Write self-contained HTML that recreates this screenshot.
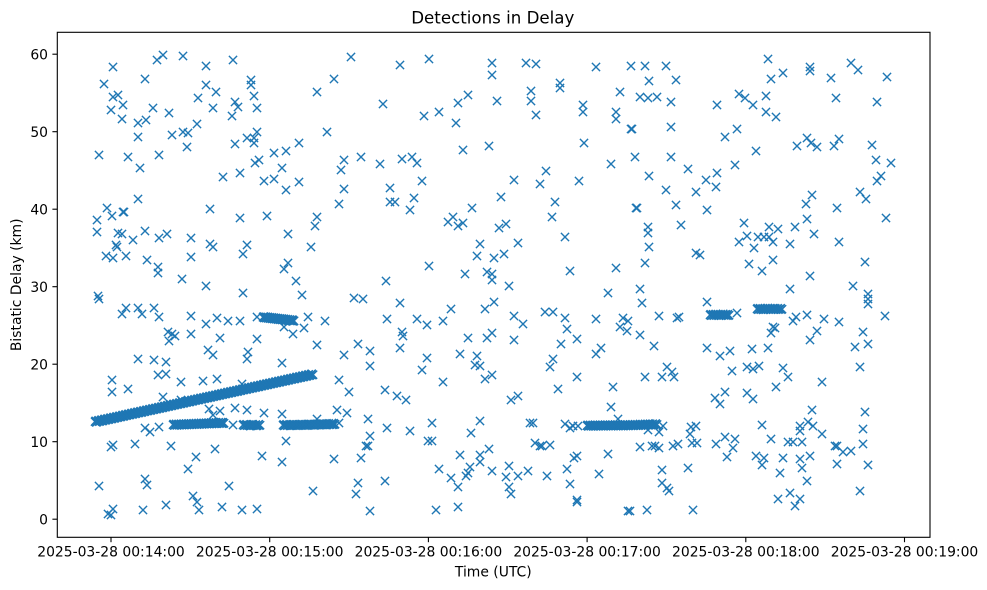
<!DOCTYPE html>
<html><head><meta charset="utf-8"><style>
html,body{margin:0;padding:0;background:#fff;}
svg{display:block;}
text{font-family:"DejaVu Sans","Liberation Sans",sans-serif;fill:#000;}
</style></head><body>
<svg width="987" height="590" viewBox="0 0 987 590" xmlns="http://www.w3.org/2000/svg">
<defs>
<marker id="m" markerWidth="12" markerHeight="12" refX="6" refY="6" markerUnits="userSpaceOnUse" overflow="visible">
<path d="M1.9 1.9 L10.1 10.1 M1.9 10.1 L10.1 1.9" stroke="#1f77b4" stroke-width="1.4" fill="none"/>
</marker>
<g id="bands" fill="none" stroke="none" marker-start="url(#m)" marker-mid="url(#m)" marker-end="url(#m)">
<polyline fill="none" stroke="none" points="95,421.7 98,421.0 101,420.4 104,419.7 107,419.1 110,418.4 113,417.8 116,417.1 119,416.5 122,415.8 125,415.1 128,414.5 131,413.8 134,413.2 137,412.5 140,411.9 143,411.2 146,410.5 149,409.9 152,409.2 155,408.6 158,407.9 161,407.3 164,406.6 167,405.9 170,405.3 173,404.6 176,404.0 179,403.3 182,402.7 185,402.0 188,401.4 191,400.7 194,400.0 197,399.4 200,398.7 203,398.1 206,397.4 209,396.8 212,396.1 215,395.5 218,394.8 221,394.1 224,393.5 227,392.8 230,392.2 233,391.5 236,390.9 239,390.2 242,389.5 245,388.9 248,388.2 251,387.6 254,386.9 257,386.3 260,385.6 263,384.9 266,384.3 269,383.6 272,383.0 275,382.3 278,381.7 281,381.0 284,380.4 287,379.7 290,379.0 293,378.4 296,377.7 299,377.1 302,376.4 305,375.8 308,375.1 311,374.5"/>
<polyline fill="none" stroke="none" points="173,424.8 175.5,424.7 178,424.6 180.5,424.5 183,424.4 185.5,424.3 188,424.2 190.5,424.1 193,424 195.5,423.9 198,423.8 200.5,423.7 203,423.6 205.5,423.5 208,423.4 210.5,423.3 213,423.2 215.5,423.1 218,423 220.5,422.9 222,423"/>
<polyline fill="none" stroke="none" points="243,425 246,425 249,425.5 252,425 255,425.3 258,425"/>
<polyline fill="none" stroke="none" points="283,425.2 286,425 289,425.2 292,425 295,425.1 298,425 301,424.8 304,425 307,424.8 310,424.6 313,424.8 316,424.5 319,424.4 322,424.3 325,424.5 328,424.2 331,424.2 333,424"/>
<polyline fill="none" stroke="none" points="587,425.7 589.5,425.6 592,425.7 594.5,425.5 597,425.6 599.5,425.5 602,425.6 604.5,425.4 607,425.5 609.5,425.4 612,425.5 614.5,425.3 617,425.4 619.5,425.3 622,425.4 624.5,425.2 627,425.3 629.5,425.1 632,425.2 634.5,425 637,425.1 639.5,424.8 642,424.9 644.5,424.6 647,424.7 649.5,424.5 652,424.5 655,424.3"/>
<polyline fill="none" stroke="none" points="263,317.3 265,317.5 267,317.7 269,318 271,318.2 273,318.4 275,318.6 277,318.9 279,319.1 281,319.3 283,319.5 285,319.8 287,320 289,320.3 291,320.5 292,320.7"/>
<polyline fill="none" stroke="none" points="710,315 712.5,315 715,314.8 717.5,315 720,315 722.5,314.7 725,315 727,315"/>
<polyline fill="none" stroke="none" points="757,309 759.5,309 762,309.2 764.5,309 767,308.8 769.5,309 772,309 774.5,309 777,309 780,309"/>
</g>
</defs>
<rect width="987" height="590" fill="#fff"/>
<g fill="none" stroke="none" marker-start="url(#m)" marker-mid="url(#m)" marker-end="url(#m)">
<polyline points="98,296 99,155 104,84 113,67 113,97 118,95 111,110 123,105 122,119 97,220 97,232 107,208 112,216 106,256 113,258 116,245 117,247 118,233 122,234 123,212 124,212 126,256 128,157 133,240 138,123 138,137 140,168 138,199 145,79 146,120 145,231 147,260 153,108 157,60 163,55 159,155 158,267 158,273 159,238 167,234 169,113 172,135 182,279 183,56 183,132 187,147 188,133 191,238 191,257 197,124 198,98 206,66 206,85 206,286 210,209 210,244 213,247 213,108 216,92 223,177 233,60 232,116 235,102 238,107 235,144 240,173 240,218 243,254 243,293 247,245 247,138 251,80 251,85 254,96 254,138 254,143 257,108 257,132 255,163 259,160 264,181 267,216 274,179 274,153 282,168 286,151 286,190 288,234 288,263 284,269 296,281 302,295 299,143 299,182 311,247 315,226 317,217 317,92 327,132"/>
<polyline points="99,299 122,314 126,308 138,308 142,314 154,308 159,317 168,332 172,334 169,341 175,336 191,316 191,334 206,324 208,350 213,355 217,318 220,338 228,321 240,321 248,352 247,359 257,339 257,317 284,327 293,334 304,328 308,317 317,345 325,321 138,359 154,360 166,362 158,375 166,374 112,380 112,392 128,389 181,382 203,381 217,379 242,384 282,363 163,397 181,400 209,409 213,415 220,411 235,408 247,410 264,413 282,414 159,427 145,428 150,432 317,419 233,425 113,445 111,447 135,444 171,446 215,449 286,441 282,462 262,456 188,469 196,457 145,479 147,485 99,486 229,486 193,496 197,502 199,510 166,505 222,507 242,510 257,509 143,510 113,509 108,514 111,515 313,491"/>
<polyline points="351,57 334,79 400,65 429,59 492,63 492,75 526,63 536,64 596,67 631,66 560,83 560,88 531,91 531,101 536,115 497,101 468,95 458,103 456,123 439,112 424,116 383,104 620,92 583,105 583,112 616,112 616,119 631,129 584,143 463,150 489,146 611,164 344,160 341,170 361,157 380,164 402,159 412,157 417,163 422,181 344,189 339,204 390,188 390,202 395,202 414,198 410,210 514,180 540,184 546,171 579,181 501,197 555,202 552,217 472,208 448,222 453,217 458,226 463,223 499,228 506,224 565,237 480,244 518,243 477,256 494,258 504,254 429,266 465,274 487,272 492,274 492,280 570,271 616,268 386,281 509,286"/>
<polyline points="354,298 363,299 400,303 387,319 402,332 403,336 400,348 417,319 427,325 443,321 451,309 485,309 494,302 514,316 523,324 514,340 492,333 487,338 468,338 545,312 553,312 565,318 567,329 577,339 561,344 596,319 608,293 623,318 620,327 627,331 601,348 596,354 553,359 550,367 577,377 558,389 613,387 611,407 358,344 370,351 344,355 370,366 427,358 422,370 460,354 477,356 475,365 480,366 485,379 492,375 339,380 349,392 385,390 397,396 406,400 443,382 511,400 518,396 337,410 347,413 339,423 368,419 387,428 410,431 432,423 370,436 366,446 368,446 428,441 432,441 471,433 480,421 530,423 533,423 565,424 570,428 573,426 578,426 618,419 535,443 540,446 550,445 542,446 577,456 574,458 608,454 334,459 361,458 460,455 480,455 480,462 489,449 439,469 451,478 458,487 466,476 468,473 470,467 492,471 509,466 506,477 518,476 528,471 509,487 511,494 547,476 567,469 570,484 599,474 358,483 356,494 385,481 577,500 577,502 370,511 436,510 458,507 628,511"/>
<polyline points="645,66 666,66 649,81 676,80 640,97 648,98 657,97 671,102 632,129 671,127 635,157 671,157 649,176 688,169 666,190 676,205 636,208 637,208 681,225 648,227 648,233 649,247 645,263 696,253 700,255 696,192 706,180 716,187 717,173 707,210 717,105 725,137 737,129 735,165 756,151 739,94 745,98 753,105 766,96 766,112 776,117 768,59 771,79 783,73 810,67 810,71 831,78 851,63 858,70 887,77 836,98 877,102 797,146 807,138 811,143 817,147 834,146 839,139 872,145 876,160 891,163 881,176 877,181 860,192 866,199 812,195 806,204 837,208 807,219 886,218 744,223 739,242 747,236 754,248 758,237 764,237 769,227 769,237 773,242 778,229 795,227 790,244 814,234 839,242 749,264 762,271 773,260 810,276 865,262 853,286"/>
<polyline points="640,289 642,303 790,289 868,294 868,299 868,304 707,302 885,316 628,321 659,316 677,318 679,317 737,313 773,327 775,328 771,333 793,321 796,317 807,315 824,319 839,322 817,331 810,340 863,332 868,344 855,347 860,367 640,335 654,346 707,348 720,356 730,351 752,349 768,348 667,367 672,372 662,377 674,377 645,377 732,371 747,367 753,369 759,366 783,368 788,377 776,387 822,382 715,398 725,392 720,404 747,393 753,399 812,410 865,412 863,429 863,444 868,465 860,491 648,430 663,426 659,432 691,427 696,426 690,434 692,443 697,443 640,447 652,446 655,446 659,448 673,446 678,444 716,444 725,437 735,439 733,448 727,457 762,425 771,439 788,442 793,442 802,442 800,426 808,422 813,426 800,431 822,434 837,446 835,446 843,452 851,451 756,456 764,458 762,465 783,458 800,459 810,456 802,468 780,473 807,481 837,464 662,470 688,468 662,483 667,488 669,491 778,499 790,493 795,506 800,499 630,511 647,510 693,510"/>
</g>
<use href="#bands"/>
<use href="#bands" transform="translate(1.3,0.7)"/>
<use href="#bands" transform="translate(0.7,-0.8)"/>
<use href="#bands" transform="translate(2.1,0.2)"/>
<rect x="57.3" y="32.3" width="872.7" height="505" fill="none" stroke="#000" stroke-width="1.1"/>
<g stroke="#000" stroke-width="1.1">
<line x1="52.4" y1="519.2" x2="57.3" y2="519.2"/>
<line x1="52.4" y1="441.7" x2="57.3" y2="441.7"/>
<line x1="52.4" y1="364.2" x2="57.3" y2="364.2"/>
<line x1="52.4" y1="286.7" x2="57.3" y2="286.7"/>
<line x1="52.4" y1="209.2" x2="57.3" y2="209.2"/>
<line x1="52.4" y1="131.7" x2="57.3" y2="131.7"/>
<line x1="52.4" y1="54.2" x2="57.3" y2="54.2"/>
<line x1="111" y1="537.3" x2="111" y2="542.2"/>
<line x1="269.7" y1="537.3" x2="269.7" y2="542.2"/>
<line x1="428.4" y1="537.3" x2="428.4" y2="542.2"/>
<line x1="587.1" y1="537.3" x2="587.1" y2="542.2"/>
<line x1="745.8" y1="537.3" x2="745.8" y2="542.2"/>
<line x1="904.5" y1="537.3" x2="904.5" y2="542.2"/>
</g>
<g font-size="13.9" text-anchor="end">
<text x="48" y="524.3">0</text>
<text x="48" y="446.8">10</text>
<text x="48" y="369.3">20</text>
<text x="48" y="291.8">30</text>
<text x="48" y="214.3">40</text>
<text x="48" y="136.8">50</text>
<text x="48" y="59.3">60</text>
</g>
<g font-size="13.9" text-anchor="middle">
<text x="111" y="556.7">2025-03-28 00:14:00</text>
<text x="269.7" y="556.7">2025-03-28 00:15:00</text>
<text x="428.4" y="556.7">2025-03-28 00:16:00</text>
<text x="587.1" y="556.7">2025-03-28 00:17:00</text>
<text x="745.8" y="556.7">2025-03-28 00:18:00</text>
<text x="904.5" y="556.7">2025-03-28 00:19:00</text>
<text x="493.3" y="576.7">Time (UTC)</text>
</g>
<text x="21" y="284.8" font-size="13.9" text-anchor="middle" transform="rotate(-90 21 284.8)">Bistatic Delay (km)</text>
<text x="492.8" y="23.3" font-size="16.67" text-anchor="middle">Detections in Delay</text>
</svg>
</body></html>
